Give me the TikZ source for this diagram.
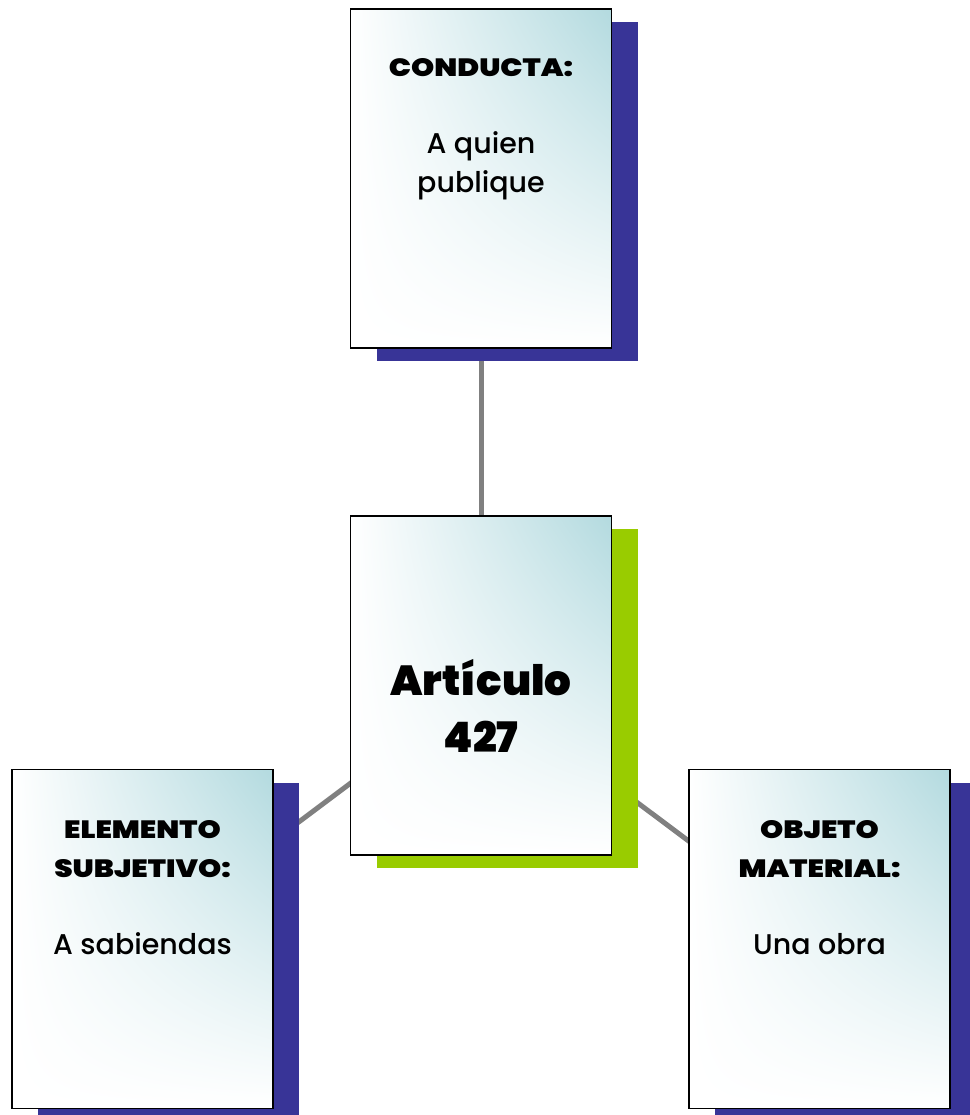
\documentclass[tikz,border=0pt]{standalone}
\usepackage{fontspec}
\usetikzlibrary{shadings}
\setmainfont{Poppins}
\newfontfamily\bodyfont{Poppins Medium}
\newfontfamily\heavy{Poppins Black}[FakeStretch=1.18]
\newfontfamily\heavybig{Poppins Black}
\pgfdeclarelayer{bg}
\pgfsetlayers{bg,main}
\definecolor{shblue}{HTML}{383497}
\definecolor{shgreen}{HTML}{99CC00}
\definecolor{cardcyan}{HTML}{B3DADF}
\definecolor{linkgray}{HTML}{808080}
\tikzset{
  card/.style={draw=black, line width=1.5pt, minimum width=261pt, minimum height=339pt, inner sep=0pt,
    upper left=white, upper right=cardcyan, lower left=white, lower right=white},
  cardshadow/.style={minimum width=261pt, minimum height=339pt, inner sep=0pt},
  link/.style={draw=linkgray, line width=5pt},
  head/.style={anchor=base, inner sep=0pt, font=\heavy\fontsize{25}{30}\selectfont},
  body/.style={anchor=base, inner sep=0pt, font=\bodyfont\fontsize{28.5}{34}\selectfont},
  big/.style={anchor=base, inner sep=0pt, font=\heavybig\fontsize{42}{50}\selectfont}
}
\begin{document}
\begin{tikzpicture}[x=1pt,y=-1pt]
\useasboundingbox (0,0) rectangle (969,1115);
% shadows
\node[cardshadow, fill=shblue] (topS) at (507,191.5) {};
\node[cardshadow, fill=shgreen] (midS) at (507,698.5) {};
\node[cardshadow, fill=shblue] (leftS) at (168.5,952) {};
\node[cardshadow, fill=shblue] (rightS) at (845.5,952) {};
% cards
\node[card] (top) at (481,178.5) {};
\node[card] (mid) at (481,685.5) {};
\node[card] (left) at (142.5,939) {};
\node[card] (right) at (819.5,939) {};
% connectors
\begin{pgfonlayer}{bg}
\draw[link] (top.center) -- (mid.center);
\draw[link] (mid.center) -- (left.center);
\draw[link] (mid.center) -- (right.center);
\end{pgfonlayer}
% texts
\node[head] (t1) at (481,77) {CONDUCTA:};
\node[body] (t2) at (481,154) {A quien};
\node[body] (t3) at (481,193) {publique};
\node[big] (m1) at (481,695) {Artículo};
\node[big] (m2) at (481,752) {427};
\node[head] (l1) at (142.5,838) {ELEMENTO};
\node[head] (l2) at (142.5,877) {SUBJETIVO:};
\node[body] (l3) at (142.5,954) {A sabiendas};
\node[head] (r1) at (819.5,838) {OBJETO};
\node[head] (r2) at (819.5,877) {MATERIAL:};
\node[body] (r3) at (819.5,954) {Una obra};
\end{tikzpicture}
\end{document}
